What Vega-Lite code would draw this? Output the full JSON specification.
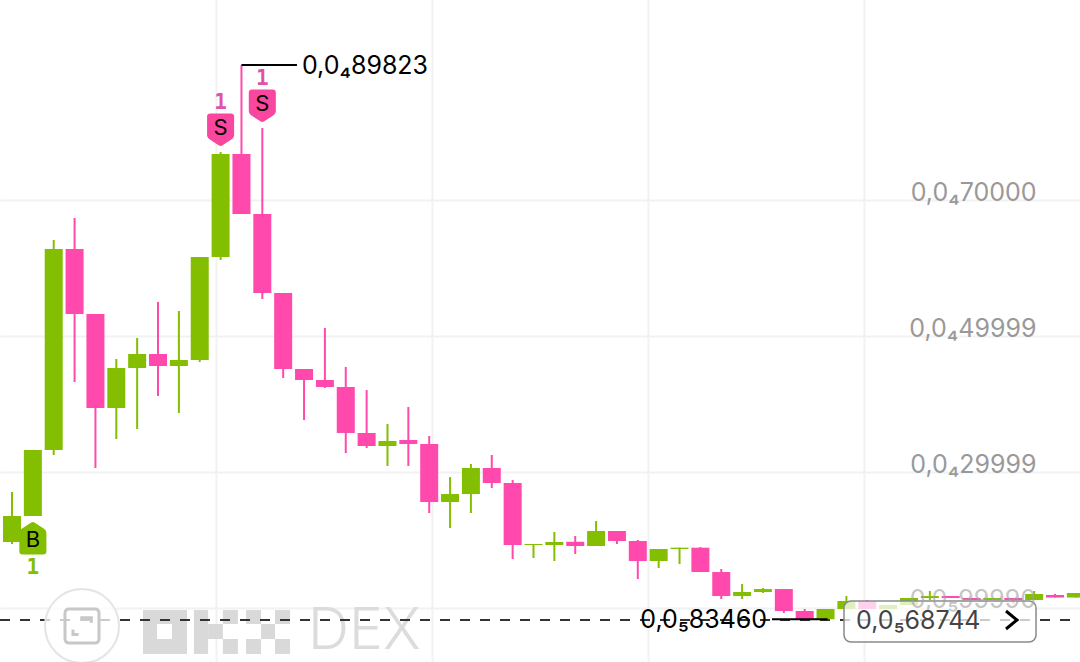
{
"$schema":"https://vega.github.io/schema/vega-lite/v6.json",
"width":1080,"height":662,"padding":0,"autosize":{"type":"none"},
"background":"#ffffff",
"view":{"stroke":null},
"datasets":{
"candles":[
{"t":0,"open":1.971,"close":2.353,"high":2.706,"low":1.941,"dir":"up"},
{"t":1,"open":2.353,"close":3.324,"high":3.324,"low":2.353,"dir":"up"},
{"t":2,"open":3.324,"close":6.279,"high":6.412,"low":3.25,"dir":"up"},
{"t":3,"open":6.279,"close":5.324,"high":6.735,"low":4.324,"dir":"down"},
{"t":4,"open":5.324,"close":3.941,"high":5.324,"low":3.059,"dir":"down"},
{"t":5,"open":3.941,"close":4.529,"high":4.662,"low":3.485,"dir":"up"},
{"t":6,"open":4.529,"close":4.735,"high":4.971,"low":3.632,"dir":"up"},
{"t":7,"open":4.735,"close":4.559,"high":5.5,"low":4.118,"dir":"down"},
{"t":8,"open":4.559,"close":4.647,"high":5.368,"low":3.868,"dir":"up"},
{"t":9,"open":4.647,"close":6.162,"high":6.162,"low":4.618,"dir":"up"},
{"t":10,"open":6.162,"close":7.676,"high":7.706,"low":6.118,"dir":"up"},
{"t":11,"open":7.676,"close":6.794,"high":8.982,"low":6.794,"dir":"down"},
{"t":12,"open":6.794,"close":5.632,"high":8.059,"low":5.544,"dir":"down"},
{"t":13,"open":5.632,"close":4.515,"high":5.632,"low":4.382,"dir":"down"},
{"t":14,"open":4.515,"close":4.353,"high":4.515,"low":3.765,"dir":"down"},
{"t":15,"open":4.353,"close":4.25,"high":5.118,"low":4.235,"dir":"down"},
{"t":16,"open":4.25,"close":3.574,"high":4.544,"low":3.279,"dir":"down"},
{"t":17,"open":3.574,"close":3.382,"high":4.206,"low":3.353,"dir":"down"},
{"t":18,"open":3.382,"close":3.456,"high":3.706,"low":3.088,"dir":"up"},
{"t":19,"open":3.471,"close":3.412,"high":3.956,"low":3.088,"dir":"down"},
{"t":20,"open":3.412,"close":2.559,"high":3.529,"low":2.397,"dir":"down"},
{"t":21,"open":2.559,"close":2.676,"high":2.926,"low":2.176,"dir":"up"},
{"t":22,"open":2.676,"close":3.059,"high":3.118,"low":2.397,"dir":"up"},
{"t":23,"open":3.059,"close":2.838,"high":3.25,"low":2.765,"dir":"down"},
{"t":24,"open":2.838,"close":1.926,"high":2.882,"low":1.721,"dir":"down"},
{"t":25,"open":1.926,"close":1.941,"high":1.941,"low":1.735,"dir":"up"},
{"t":26,"open":1.926,"close":1.971,"high":2.118,"low":1.691,"dir":"up"},
{"t":27,"open":1.974,"close":1.912,"high":2.059,"low":1.794,"dir":"down"},
{"t":28,"open":1.912,"close":2.132,"high":2.279,"low":1.912,"dir":"up"},
{"t":29,"open":2.132,"close":1.985,"high":2.132,"low":1.941,"dir":"down"},
{"t":30,"open":1.985,"close":1.691,"high":2.0,"low":1.426,"dir":"down"},
{"t":31,"open":1.691,"close":1.868,"high":1.868,"low":1.588,"dir":"up"},
{"t":32,"open":1.868,"close":1.887,"high":1.887,"low":1.647,"dir":"up"},
{"t":33,"open":1.887,"close":1.529,"high":1.897,"low":1.529,"dir":"down"},
{"t":34,"open":1.529,"close":1.176,"high":1.574,"low":1.132,"dir":"down"},
{"t":35,"open":1.176,"close":1.235,"high":1.353,"low":1.132,"dir":"up"},
{"t":36,"open":1.235,"close":1.279,"high":1.294,"low":1.221,"dir":"up"},
{"t":37,"open":1.279,"close":0.956,"high":1.279,"low":0.926,"dir":"down"},
{"t":38,"open":0.956,"close":0.8346,"high":0.985,"low":0.8346,"dir":"down"},
{"t":39,"open":0.8346,"close":0.985,"high":0.985,"low":0.8346,"dir":"up"},
{"t":40,"open":0.985,"close":1.103,"high":1.176,"low":0.985,"dir":"up"},
{"t":41,"open":1.103,"close":0.985,"high":1.118,"low":0.985,"dir":"down"},
{"t":42,"open":0.985,"close":1.044,"high":1.044,"low":0.985,"dir":"up"},
{"t":43,"open":1.044,"close":1.147,"high":1.147,"low":1.044,"dir":"up"},
{"t":44,"open":1.147,"close":1.176,"high":1.25,"low":1.118,"dir":"up"},
{"t":45,"open":1.176,"close":1.147,"high":1.176,"low":1.147,"dir":"down"},
{"t":46,"open":1.147,"close":1.118,"high":1.147,"low":1.118,"dir":"down"},
{"t":47,"open":1.118,"close":1.147,"high":1.147,"low":1.118,"dir":"up"},
{"t":48,"open":1.147,"close":1.118,"high":1.147,"low":1.06,"dir":"down"},
{"t":49,"open":1.118,"close":1.206,"high":1.25,"low":1.118,"dir":"up"},
{"t":50,"open":1.191,"close":1.154,"high":1.206,"low":1.154,"dir":"down"},
{"t":51,"open":1.154,"close":1.221,"high":1.221,"low":1.154,"dir":"up"}
],
"logo":[
{"t":6.28,"t2":6.95,"p":0.324,"p2":0.971},
{"t":7.67,"t2":8.39,"p":0.324,"p2":0.971},
{"t":6.95,"t2":7.67,"p":0.765,"p2":0.971},
{"t":6.95,"t2":7.67,"p":0.324,"p2":0.544},
{"t":8.72,"t2":9.4,"p":0.324,"p2":0.971},
{"t":9.4,"t2":10.11,"p":0.544,"p2":0.765},
{"t":10.11,"t2":10.83,"p":0.765,"p2":0.971},
{"t":10.11,"t2":10.83,"p":0.324,"p2":0.544},
{"t":11.22,"t2":11.94,"p":0.765,"p2":0.971},
{"t":11.22,"t2":11.94,"p":0.324,"p2":0.544},
{"t":11.94,"t2":12.61,"p":0.544,"p2":0.765},
{"t":12.61,"t2":13.33,"p":0.765,"p2":0.971},
{"t":12.61,"t2":13.33,"p":0.324,"p2":0.544}
]
},
"data":{"name":"candles"},
"encoding":{
"x":{"field":"t","type":"quantitative","title":null,
"scale":{"domain":[-0.575,51.198],"nice":false,"zero":false,"padding":0},
"axis":{"orient":"bottom","values":[9.78,20.13,30.49,40.84],"grid":true,"gridColor":"#f2f2f2","gridWidth":2,"labels":false,"ticks":false,"domain":false,"title":null}},
"y":{"field":"p","type":"quantitative","title":null,
"scale":{"domain":[0.2059,9.9412],"nice":false,"zero":false,"padding":0},
"axis":{"orient":"right","values":[7,5,3,1],"grid":true,"gridColor":"#f2f2f2","gridWidth":2,"ticks":false,"domain":false,"title":null,
"labelExpr":"datum.value==7?'0,0₄70000':datum.value==5?'0,0₄49999':datum.value==3?'0,0₄29999':''",
"labelFont":"Inter","labelFontSize":25,"labelAlign":"right","labelBaseline":"middle","labelPadding":-44,"labelOffset":-8,"labelBound":false,"labelFlush":false,"labelOverlap":false,
"labelColor":"#999999"}}
},
"layer":[
{"data":{"name":"logo"},"mark":{"type":"rect","color":"#d9d9d9"},"encoding":{"x":{"field":"t","type":"quantitative"},"x2":{"field":"t2"},"y":{"field":"p","type":"quantitative"},"y2":{"field":"p2"}}},
{"data":{"values":[{"t":14.19,"p":0.647,"label":"DEX"}]},"mark":{"type":"text","font":"Inter","fontWeight":300,"fontSize":57,"color":"#dcdcdc","align":"left","baseline":"middle"},"encoding":{"text":{"field":"label"}}},
{"data":{"values":[{"p":0.8235}]},"mark":{"type":"rule","color":"#333333","strokeWidth":2,"strokeDash":[10,10]},"encoding":{"x":{"value":0},"x2":{"value":1080}}},
{"mark":{"type":"rule","strokeWidth":2},"encoding":{"y":{"field":"low","type":"quantitative"},"y2":{"field":"high"},"color":{"field":"dir","type":"nominal","legend":null,"scale":{"domain":["up","down"],"range":["#83bf00","#ff49ad"]}}}},
{"mark":{"type":"bar","width":18},"encoding":{"y":{"field":"open","type":"quantitative"},"y2":{"field":"close"},"color":{"field":"dir","type":"nominal","legend":null}}},
{"data":{"values":[{"t":11,"t2":13.66,"p":8.985},{"t":36.43,"t2":39.1,"p":0.8346}]},"mark":{"type":"rule","color":"#000000","strokeWidth":2},"encoding":{"x":{"field":"t","type":"quantitative"},"x2":{"field":"t2"}}},
{"data":{"values":[{"t":13.9,"p":8.965,"label":"0,0₄89823"}]},"mark":{"type":"text","font":"Inter","fontSize":25,"color":"#000000","align":"left","baseline":"middle"},"encoding":{"text":{"field":"label"}}},
{"data":{"values":[{"t":36.2,"p":0.82,"label":"0,0₅83460"}]},"mark":{"type":"text","font":"Inter","fontSize":25,"color":"#000000","align":"right","baseline":"middle"},"encoding":{"text":{"field":"label"}}},
{"data":{"values":[{"t":1,"p":2.029}]},"mark":{"type":"point","filled":true,"opacity":1,"color":"#83bf00","size":1089,"shape":"M-0.12,-0.93 Q0,-1 0.12,-0.93 L0.7,-0.55 Q0.82,-0.47 0.82,-0.3 L0.82,0.8 Q0.82,1 0.62,1 L-0.62,1 Q-0.82,1 -0.82,0.8 L-0.82,-0.3 Q-0.82,-0.47 -0.7,-0.55 Z"}},
{"data":{"values":[{"t":10,"p":8.029},{"t":12,"p":8.382}]},"mark":{"type":"point","filled":true,"opacity":1,"color":"#f9479f","size":1089,"shape":"M-0.12,0.93 Q0,1 0.12,0.93 L0.7,0.55 Q0.82,0.47 0.82,0.3 L0.82,-0.8 Q0.82,-1 0.62,-1 L-0.62,-1 Q-0.82,-1 -0.82,-0.8 L-0.82,0.3 Q-0.82,0.47 -0.7,0.55 Z"}},
{"data":{"values":[{"t":1,"p":2.0,"label":"B"},{"t":10,"p":8.06,"label":"S"},{"t":12,"p":8.41,"label":"S"}]},"mark":{"type":"text","font":"Inter","fontSize":22,"color":"#000000","align":"center","baseline":"middle"},"encoding":{"text":{"field":"label"}}},
{"data":{"values":[{"t":1,"p":1.588,"label":"1"}]},"mark":{"type":"text","font":"DejaVu Sans Mono","fontWeight":"bold","fontSize":21,"color":"#83bf00","align":"center","baseline":"middle"},"encoding":{"text":{"field":"label"}}},
{"data":{"values":[{"t":10,"p":8.426,"label":"1"},{"t":12,"p":8.779,"label":"1"}]},"mark":{"type":"text","font":"DejaVu Sans Mono","fontWeight":"bold","fontSize":21,"color":"#e052a8","align":"center","baseline":"middle"},"encoding":{"text":{"field":"label"}}},
{"data":{"values":[{"t":3.356,"p":0.735}]},"mark":{"type":"point","shape":"circle","size":5476,"filled":false,"fill":"#ffffff","fillOpacity":0.75,"stroke":"#e4e4e4","strokeWidth":2,"opacity":1}},
{"data":{"values":[{"t":3.356,"p":0.735}]},"mark":{"type":"point","size":1156,"filled":false,"stroke":"#c8c8c8","strokeWidth":3,"opacity":1,"shape":"M-0.75,-1 L0.75,-1 Q1,-1 1,-0.75 L1,0.75 Q1,1 0.75,1 L-0.75,1 Q-1,1 -1,0.75 L-1,-0.75 Q-1,-1 -0.75,-1 Z M-0.1,-0.48 L0.55,-0.48 L0.55,-0.19 M-0.53,0.2 L-0.53,0.5 L-0.2,0.5"}},
{"data":{"values":[{"t":39.885,"t2":49.09,"p":0.5,"p2":1.103}]},"mark":{"type":"rect","fill":"#ffffff","fillOpacity":0.75,"stroke":"#8a8a8a","strokeWidth":1.5,"cornerRadius":7},"encoding":{"x":{"field":"t","type":"quantitative"},"x2":{"field":"t2"},"y":{"field":"p","type":"quantitative"},"y2":{"field":"p2"}}},
{"data":{"values":[{"t":49.09,"p":1.118,"label":"0,0₅99990"}]},"mark":{"type":"text","font":"Inter","fontSize":25,"color":"#a0a0a0","opacity":0.6,"align":"right","baseline":"middle"},"encoding":{"text":{"field":"label"}}},
{"data":{"values":[{"t":40.46,"p":0.81,"label":"0,0₅68744"}]},"mark":{"type":"text","font":"Inter","fontSize":25,"color":"#444444","align":"left","baseline":"middle"},"encoding":{"text":{"field":"label"}}},
{"data":{"values":[{"t":47.89,"p":0.8235}]},"mark":{"type":"point","size":400,"filled":false,"stroke":"#000000","strokeWidth":3,"opacity":1,"shape":"M-0.5,-0.9 L0.6,0 L-0.5,0.9"}}
]
}
